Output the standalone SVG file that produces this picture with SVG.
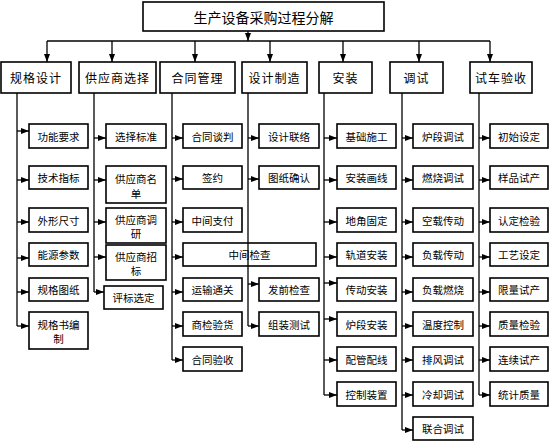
<svg xmlns="http://www.w3.org/2000/svg" width="550" height="444" viewBox="0 0 550 444">
<style>
.b{fill:#fff;stroke:#000;stroke-width:1.6}
.t{font-family:"Noto Sans CJK SC","Noto Sans",sans-serif;fill:#000;text-anchor:middle;dominant-baseline:central}
.t0{font-size:14px}
.t1{font-size:12px;letter-spacing:1px}
.t2{font-size:10.5px}
.c{fill:none;stroke:#000;stroke-width:1.3}
.a{marker-end:url(#ah)}
</style>
<defs>
<marker id="ah" viewBox="0 0 8 6" refX="8" refY="3" markerWidth="8" markerHeight="6" orient="auto" markerUnits="userSpaceOnUse"><path d="M0,0 L8,3 L0,6 z" fill="#000"/></marker>
</defs>
<rect width="550" height="444" fill="#fff"/>
<g id="nodes">
<g id="root"><rect class="b" x="143" y="2" width="241" height="29"/><text class="t t0" x="263.5" y="16.5">生产设备采购过程分解</text></g>
<g id="n1"><rect class="b" x="1" y="62" width="70" height="31"/><text class="t t1" x="36" y="77.5">规格设计</text></g>
<g id="n2"><rect class="b" x="79" y="62" width="77" height="31"/><text class="t t1" x="117.5" y="77.5">供应商选择</text></g>
<g id="n3"><rect class="b" x="160" y="62" width="75" height="31"/><text class="t t1" x="197.5" y="77.5">合同管理</text></g>
<g id="n4"><rect class="b" x="242" y="62" width="65" height="31"/><text class="t t1" x="274.5" y="77.5">设计制造</text></g>
<g id="n5"><rect class="b" x="319" y="62" width="53" height="31"/><text class="t t1" x="345.5" y="77.5">安装</text></g>
<g id="n6"><rect class="b" x="390" y="62" width="53" height="31"/><text class="t t1" x="416.5" y="77.5">调试</text></g>
<g id="n7"><rect class="b" x="470" y="62" width="62" height="31"/><text class="t t1" x="501" y="77.5">试车验收</text></g>

<g id="n1_1"><rect class="b" x="29" y="124" width="59" height="24"/><text class="t t2" x="58.5" y="136">功能要求</text></g>
<g id="n1_2"><rect class="b" x="29" y="166" width="59" height="23"/><text class="t t2" x="58.5" y="177.5">技术指标</text></g>
<g id="n1_3"><rect class="b" x="29" y="208" width="59" height="24"/><text class="t t2" x="58.5" y="220">外形尺寸</text></g>
<g id="n1_4"><rect class="b" x="29" y="243" width="59" height="23"/><text class="t t2" x="58.5" y="254.5">能源参数</text></g>
<g id="n1_5"><rect class="b" x="29" y="278" width="59" height="23"/><text class="t t2" x="58.5" y="289.5">规格图纸</text></g>
<g id="n1_6"><rect class="b" x="29" y="312" width="59" height="37"/><text class="t t2" x="58.5" y="324">规格书编</text><text class="t t2" x="58.5" y="338">制</text></g>

<g id="n2_1"><rect class="b" x="106" y="124" width="60" height="24"/><text class="t t2" x="136" y="136">选择标准</text></g>
<g id="n2_2"><rect class="b" x="106" y="166" width="60" height="37"/><text class="t t2" x="136" y="178">供应商名</text><text class="t t2" x="136" y="193">单</text></g>
<g id="n2_3"><rect class="b" x="106" y="208" width="60" height="35"/><text class="t t2" x="136" y="219">供应商调</text><text class="t t2" x="136" y="233">研</text></g>
<g id="n2_4"><rect class="b" x="106" y="245" width="60" height="35"/><text class="t t2" x="136" y="256">供应商招</text><text class="t t2" x="136" y="270">标</text></g>
<g id="n2_5"><rect class="b" x="104" y="286" width="59" height="23"/><text class="t t2" x="133.5" y="297.5">评标选定</text></g>

<g id="n3_1"><rect class="b" x="183" y="124" width="59" height="24"/><text class="t t2" x="212.5" y="136">合同谈判</text></g>
<g id="n3_2"><rect class="b" x="183" y="166" width="59" height="23"/><text class="t t2" x="212.5" y="177.5">签约</text></g>
<g id="n3_3"><rect class="b" x="183" y="208" width="59" height="24"/><text class="t t2" x="212.5" y="220">中间支付</text></g>
<g id="n3_4"><rect class="b" x="183" y="243" width="133" height="23"/><text class="t t2" x="249.5" y="254.5">中间检查</text></g>
<g id="n3_5"><rect class="b" x="183" y="278" width="59" height="23"/><text class="t t2" x="212.5" y="289.5">运输通关</text></g>
<g id="n3_6"><rect class="b" x="183" y="312" width="59" height="24"/><text class="t t2" x="212.5" y="324">商检验货</text></g>
<g id="n3_7"><rect class="b" x="183" y="347" width="59" height="24"/><text class="t t2" x="212.5" y="359">合同验收</text></g>

<g id="n4_1"><rect class="b" x="259" y="124" width="60" height="24"/><text class="t t2" x="289" y="136">设计联络</text></g>
<g id="n4_2"><rect class="b" x="259" y="166" width="60" height="23"/><text class="t t2" x="289" y="177.5">图纸确认</text></g>
<g id="n4_3"><rect class="b" x="259" y="278" width="60" height="23"/><text class="t t2" x="289" y="289.5">发前检查</text></g>
<g id="n4_4"><rect class="b" x="259" y="312" width="60" height="24"/><text class="t t2" x="289" y="324">组装测试</text></g>

<g id="n5_1"><rect class="b" x="337" y="124" width="59" height="24"/><text class="t t2" x="366.5" y="136">基础施工</text></g>
<g id="n5_2"><rect class="b" x="337" y="166" width="59" height="23"/><text class="t t2" x="366.5" y="177.5">安装画线</text></g>
<g id="n5_3"><rect class="b" x="337" y="208" width="59" height="24"/><text class="t t2" x="366.5" y="220">地角固定</text></g>
<g id="n5_4"><rect class="b" x="337" y="243" width="59" height="23"/><text class="t t2" x="366.5" y="254.5">轨道安装</text></g>
<g id="n5_5"><rect class="b" x="337" y="278" width="59" height="23"/><text class="t t2" x="366.5" y="289.5">传动安装</text></g>
<g id="n5_6"><rect class="b" x="337" y="312" width="59" height="24"/><text class="t t2" x="366.5" y="324">炉段安装</text></g>
<g id="n5_7"><rect class="b" x="337" y="347" width="59" height="24"/><text class="t t2" x="366.5" y="359">配管配线</text></g>
<g id="n5_8"><rect class="b" x="337" y="382" width="59" height="24"/><text class="t t2" x="366.5" y="394">控制装置</text></g>

<g id="n6_1"><rect class="b" x="413" y="124" width="60" height="24"/><text class="t t2" x="443" y="136">炉段调试</text></g>
<g id="n6_2"><rect class="b" x="413" y="166" width="60" height="23"/><text class="t t2" x="443" y="177.5">燃烧调试</text></g>
<g id="n6_3"><rect class="b" x="413" y="208" width="60" height="24"/><text class="t t2" x="443" y="220">空载传动</text></g>
<g id="n6_4"><rect class="b" x="413" y="243" width="60" height="23"/><text class="t t2" x="443" y="254.5">负载传动</text></g>
<g id="n6_5"><rect class="b" x="413" y="278" width="60" height="23"/><text class="t t2" x="443" y="289.5">负载燃烧</text></g>
<g id="n6_6"><rect class="b" x="413" y="312" width="60" height="24"/><text class="t t2" x="443" y="324">温度控制</text></g>
<g id="n6_7"><rect class="b" x="413" y="347" width="60" height="24"/><text class="t t2" x="443" y="359">排风调试</text></g>
<g id="n6_8"><rect class="b" x="413" y="382" width="60" height="24"/><text class="t t2" x="443" y="394">冷却调试</text></g>
<g id="n6_9"><rect class="b" x="413" y="417" width="60" height="23"/><text class="t t2" x="443" y="428.5">联合调试</text></g>

<g id="n7_1"><rect class="b" x="490" y="124" width="58" height="24"/><text class="t t2" x="519" y="136">初始设定</text></g>
<g id="n7_2"><rect class="b" x="490" y="166" width="58" height="23"/><text class="t t2" x="519" y="177.5">样品试产</text></g>
<g id="n7_3"><rect class="b" x="490" y="208" width="58" height="24"/><text class="t t2" x="519" y="220">认定检验</text></g>
<g id="n7_4"><rect class="b" x="490" y="243" width="58" height="23"/><text class="t t2" x="519" y="254.5">工艺设定</text></g>
<g id="n7_5"><rect class="b" x="490" y="278" width="58" height="23"/><text class="t t2" x="519" y="289.5">限量试产</text></g>
<g id="n7_6"><rect class="b" x="490" y="312" width="58" height="24"/><text class="t t2" x="519" y="324">质量检验</text></g>
<g id="n7_7"><rect class="b" x="490" y="347" width="58" height="24"/><text class="t t2" x="519" y="359">连续试产</text></g>
<g id="n7_8"><rect class="b" x="490" y="382" width="58" height="24"/><text class="t t2" x="519" y="394">统计质量</text></g>
</g>

<g id="connectors">
<path class="c a" d="M248,31 V41"/>
<path class="c" d="M47,41 H490"/>
<path class="c a" d="M47,41 V62"/>
<path class="c a" d="M112,41 V62"/>
<path class="c a" d="M195,41 V62"/>
<path class="c a" d="M270,41 V62"/>
<path class="c a" d="M343,41 V62"/>
<path class="c a" d="M419,41 V62"/>
<path class="c a" d="M490,41 V62"/>

<path class="c" d="M17,93 V326"/>
<path class="c a" d="M17,131 H29"/>
<path class="c a" d="M17,180 H29"/>
<path class="c a" d="M17,222 H29"/>
<path class="c a" d="M17,258 H29"/>
<path class="c a" d="M17,292 H29"/>
<path class="c a" d="M17,326 H29"/>

<path class="c" d="M94,93 V292"/>
<path class="c a" d="M94,138 H106"/>
<path class="c a" d="M94,180 H106"/>
<path class="c a" d="M94,222 H106"/>
<path class="c a" d="M94,257 H106"/>
<path class="c a" d="M94,292 H104"/>

<path class="c" d="M172,93 V360"/>
<path class="c a" d="M172,138 H183"/>
<path class="c a" d="M172,179 H183"/>
<path class="c a" d="M172,222 H183"/>
<path class="c a" d="M172,257 H183"/>
<path class="c a" d="M172,292 H183"/>
<path class="c a" d="M172,326 H183"/>
<path class="c a" d="M172,360 H183"/>

<path class="c" d="M248,93 V326"/>
<path class="c a" d="M248,138 H259"/>
<path class="c a" d="M248,179 H259"/>
<path class="c a" d="M248,284 H259"/>
<path class="c a" d="M248,326 H259"/>

<path class="c" d="M324,93 V395"/>
<path class="c a" d="M324,138 H337"/>
<path class="c a" d="M324,180 H337"/>
<path class="c a" d="M324,222 H337"/>
<path class="c a" d="M324,257 H337"/>
<path class="c a" d="M324,283 H337"/>
<path class="c a" d="M324,319 H337"/>
<path class="c a" d="M324,360 H337"/>
<path class="c a" d="M324,395 H337"/>

<path class="c" d="M402,93 V430"/>
<path class="c a" d="M402,138 H413"/>
<path class="c a" d="M402,180 H413"/>
<path class="c a" d="M402,222 H413"/>
<path class="c a" d="M402,257 H413"/>
<path class="c a" d="M402,292 H413"/>
<path class="c a" d="M402,326 H413"/>
<path class="c a" d="M402,360 H413"/>
<path class="c a" d="M402,395 H413"/>
<path class="c a" d="M402,430 H413"/>

<path class="c" d="M479,93 V395"/>
<path class="c a" d="M479,138 H490"/>
<path class="c a" d="M479,180 H490"/>
<path class="c a" d="M479,222 H490"/>
<path class="c a" d="M479,257 H490"/>
<path class="c a" d="M479,292 H490"/>
<path class="c a" d="M479,326 H490"/>
<path class="c a" d="M479,360 H490"/>
<path class="c a" d="M479,395 H490"/>
</g>
</svg>
